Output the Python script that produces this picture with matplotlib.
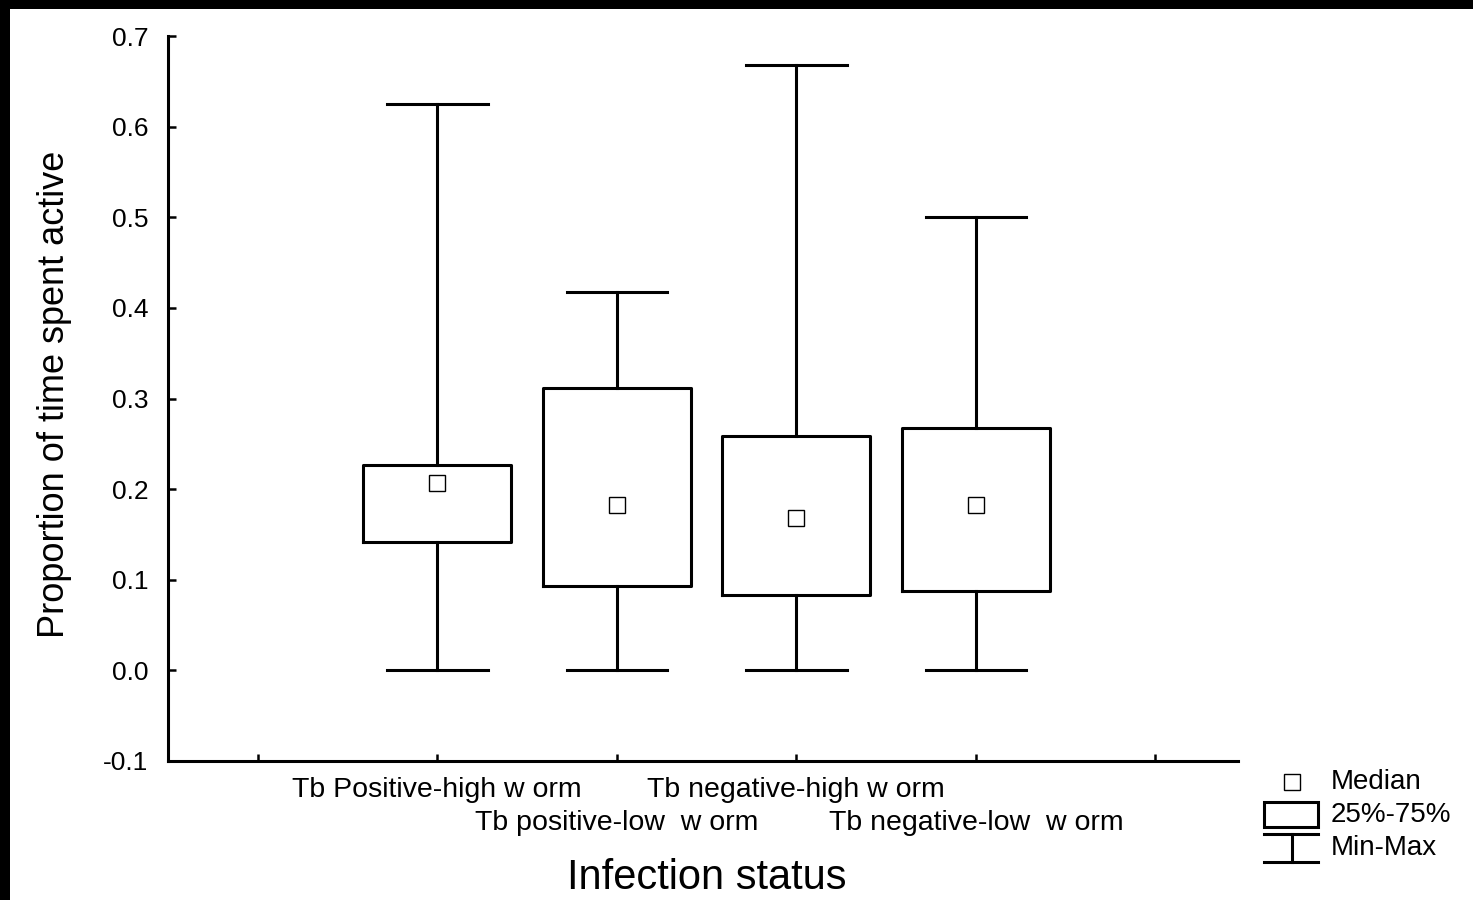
import matplotlib
matplotlib.use('Agg')
import matplotlib.pyplot as plt
from matplotlib.patches import Rectangle
from matplotlib.lines import Line2D

plt.rcParams['font.family'] = ['Liberation Sans', 'DejaVu Sans']

# data
groups  = ["Tb Positive-high w orm", "Tb positive-low  w orm",
           "Tb negative-high w orm", "Tb negative-low  w orm"]
mins    = [0.0, 0.0, 0.0, 0.0]
q1      = [0.142, 0.093, 0.083, 0.088]
medians = [0.207, 0.183, 0.168, 0.183]
q3      = [0.227, 0.312, 0.259, 0.267]
maxs    = [0.625, 0.417, 0.668, 0.500]

positions = [1, 2, 3, 4]
yticks = [-0.1, 0.0, 0.1, 0.2, 0.3, 0.4, 0.5, 0.6, 0.7]

W, H = 1473, 900
fig = plt.figure(figsize=(W / 100, H / 100), dpi=100, facecolor='white')

# black frame strips (left / top)
fig.patches.append(Rectangle((0, 0), 10 / W, 1, transform=fig.transFigure,
                             facecolor='black', edgecolor='none'))
fig.patches.append(Rectangle((0, 1 - 9 / H), 1, 9 / H, transform=fig.transFigure,
                             facecolor='black', edgecolor='none'))

ax = fig.add_axes([168 / W, 1 - 761 / H, (1238 - 168) / W, (761 - 36) / H])

stats = [dict(whislo=lo, q1=a, med=m, q3=b, whishi=hi)
         for lo, a, m, b, hi in zip(mins, q1, medians, q3, maxs)]
lw = 2.2
ax.bxp(stats, positions=positions, widths=0.825, showfliers=False,
       boxprops=dict(color='black', linewidth=lw),
       whiskerprops=dict(color='black', linewidth=lw),
       capprops=dict(color='black', linewidth=lw),
       medianprops=dict(linestyle='none'),
       capwidths=0.56)
ax.plot(positions, medians, linestyle='none', marker='s', markersize=12,
        markerfacecolor='white', markeredgecolor='black', markeredgewidth=1.0)

ax.set_xlim(-0.5, 5.46)
ax.set_ylim(-0.1, 0.7)
ax.set_yticks(yticks)
ax.set_yticklabels([f"{v:.1f}" for v in yticks])
ax.set_xticks([0, 1, 2, 3, 4, 5])
ax.set_xticklabels([])
ax.tick_params(axis='y', direction='in', length=6, width=1.8, labelsize=19, pad=14)
ax.tick_params(axis='x', direction='in', length=5, width=1.8)
for s in ['top', 'right']:
    ax.spines[s].set_visible(False)
for s in ['left', 'bottom']:
    ax.spines[s].set_linewidth(2.2)

# two-row category labels
trans = ax.get_xaxis_transform()
for i, (p, g) in enumerate(zip(positions, groups)):
    yrow = 790 if i % 2 == 0 else 823
    ax.text(p, 1 - (yrow - 36) / (761 - 36), g, transform=trans,
            ha='center', va='center', fontsize=20.5)

fig.text(707 / W, 1 - 878 / H, 'Infection status', ha='center', va='center', fontsize=30)
fig.text(55 / W, 1 - 394 / H, 'Proportion of time spent active', ha='center', va='center',
         rotation=90, fontsize=26)

# legend drawn by hand
lg = fig.add_axes([0, 0, 1, 1], facecolor='none')
lg.set_xlim(0, W)
lg.set_ylim(H, 0)
lg.axis('off')
lg.plot([1292], [782], linestyle='none', marker='s', markersize=12,
        markerfacecolor='white', markeredgecolor='black', markeredgewidth=1.0)
lg.add_patch(Rectangle((1264, 802), 54, 25, facecolor='white', edgecolor='black', lw=2.2))
lg.add_line(Line2D([1264, 1318], [834, 834], color='black', lw=2.2))
lg.add_line(Line2D([1264, 1318], [862, 862], color='black', lw=2.2))
lg.add_line(Line2D([1292, 1292], [834, 862], color='black', lw=2.2))
for yy, t in [(782, 'Median'), (815, '25%-75%'), (848, 'Min-Max')]:
    lg.text(1331, yy, t, ha='left', va='center', fontsize=20)

fig.savefig('out.png', dpi=100, facecolor='white')
